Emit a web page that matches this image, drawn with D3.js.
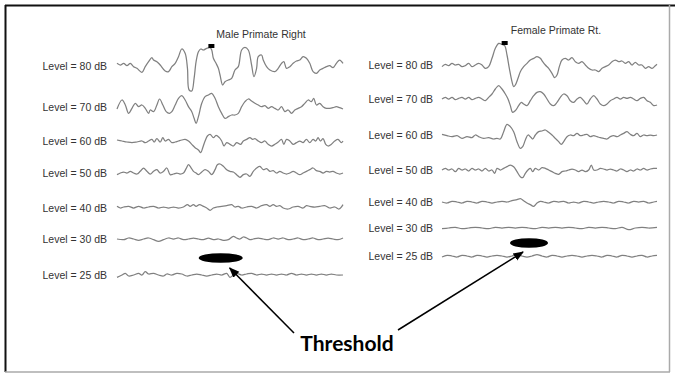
<!DOCTYPE html>
<html><head><meta charset="utf-8">
<script src="https://cdn.jsdelivr.net/npm/d3@7"></script>
<style>body{margin:0;background:#fff}</style></head>
<body><svg id="c" width="675" height="374"></svg>
<script>
// ---- data: [time (samples), amplitude (arb. units)] ----
const levels = ["80", "70", "60", "50", "40", "30", "25"];
const titles = ["Male Primate Right", "Female Primate Rt."];
const annotationText = "Threshold";

const male80 = [[0,8],[10,3],[20,8],[30,1],[40,8],[50,-2],[60,-7],[75,-19],[85,-2],[95,13],[105,25],[110,18],[120,13],[130,3],[145,-15],[155,-17],[165,-2],[175,8],[185,28],[195,51],[205,38],[212,-7],[217,-72],[225,-75],[232,-37],[238,13],[245,43],[252,51],[260,48],[270,53],[280,55],[285,48],[290,23],[298,8],[305,-7],[310,-27],[318,-57],[325,-47],[335,-42],[345,-37],[355,-12],[365,-2],[375,48],[385,56],[395,48],[405,3],[412,-32],[420,-7],[425,28],[435,33],[440,18],[450,-2],[460,-12],[475,-17],[485,-7],[495,8],[502,13],[510,-7],[520,-2],[530,8],[540,15],[550,18],[560,28],[570,23],[580,8],[590,-17],[600,-22],[610,-12],[620,-7],[630,-2],[640,1],[650,-5],[660,8],[670,18],[680,8]];
const male70 = [[0,-6],[15,21],[25,6],[35,-19],[45,-4],[55,11],[65,1],[75,6],[85,-4],[95,-19],[100,-9],[110,-14],[120,6],[128,24],[138,6],[148,-14],[158,-19],[165,-14],[175,6],[185,26],[195,34],[205,21],[215,1],[225,-14],[232,-34],[238,-49],[245,-29],[255,11],[265,31],[275,36],[285,41],[295,26],[305,1],[315,-19],[325,-34],[335,-29],[345,-24],[355,-24],[365,-19],[375,1],[385,16],[395,24],[405,18],[415,11],[425,6],[435,1],[445,4],[455,-4],[465,1],[475,-4],[485,-9],[495,1],[505,-14],[515,-9],[525,-19],[535,-9],[545,-4],[555,1],[565,11],[575,21],[585,16],[592,26],[600,6],[610,11],[620,1],[630,-4],[640,-4],[650,-2],[660,1],[670,-2],[680,-6]];
const male60 = [[0,3],[15,0],[30,-3],[45,-5],[60,-3],[75,0],[85,-5],[95,0],[105,5],[112,-3],[120,7],[130,-3],[138,10],[145,0],[155,5],[165,-5],[175,-3],[185,0],[195,3],[205,5],[215,0],[225,-10],[235,-20],[245,-27],[252,-35],[258,-20],[265,0],[272,15],[280,20],[290,10],[298,17],[308,10],[315,0],[322,-15],[330,-5],[340,-10],[350,-15],[360,-5],[372,-10],[380,0],[390,5],[400,10],[408,5],[415,7],[425,0],[435,-5],[445,0],[455,-10],[465,-15],[475,-10],[485,-3],[495,5],[502,-10],[510,5],[520,0],[530,-10],[540,-5],[550,0],[560,-5],[570,5],[580,-5],[590,5],[598,0],[605,10],[612,0],[620,7],[628,-10],[635,-15],[645,-10],[655,0],[665,5],[675,-5],[680,0]];
const male50 = [[0,-5],[10,0],[20,3],[30,0],[40,5],[50,0],[60,-3],[70,5],[80,15],[90,5],[100,-3],[110,5],[120,10],[130,0],[140,5],[150,15],[160,-5],[170,-3],[180,0],[190,-3],[200,0],[208,13],[215,25],[222,17],[230,5],[238,0],[245,-5],[255,3],[265,10],[275,5],[285,-5],[295,10],[302,25],[310,27],[320,20],[330,10],[340,5],[350,3],[360,-5],[370,-13],[380,-5],[390,-3],[400,-10],[410,5],[420,15],[430,20],[440,10],[450,13],[460,5],[470,7],[480,0],[490,5],[500,0],[510,-3],[520,0],[530,5],[540,0],[550,-5],[560,0],[570,5],[580,10],[590,15],[600,7],[610,5],[620,0],[630,5],[640,3],[650,5],[660,0],[670,-3],[680,0]];
const male40 = [[0,5],[10,0],[20,3],[35,5],[50,0],[65,5],[80,0],[95,3],[110,5],[125,0],[140,3],[155,0],[170,3],[185,0],[200,3],[212,10],[220,5],[230,10],[238,5],[248,10],[260,5],[270,0],[280,-7],[290,0],[300,3],[315,5],[330,7],[345,10],[355,3],[365,5],[375,0],[390,3],[405,5],[420,0],[435,7],[450,10],[460,5],[470,10],[480,5],[490,7],[500,0],[515,-3],[530,3],[545,5],[560,0],[570,7],[580,5],[595,3],[610,5],[625,7],[640,0],[655,3],[668,-3],[680,10]];
const male30 = [[0,0],[20,-2],[35,3],[50,0],[65,-4],[80,0],[95,3],[110,-2],[125,-7],[140,-2],[155,3],[170,0],[185,3],[200,-2],[215,0],[230,3],[245,0],[260,-2],[275,3],[290,-2],[305,0],[320,-4],[335,-2],[350,8],[360,3],[370,0],[380,6],[390,3],[400,-2],[410,0],[425,3],[440,0],[455,-2],[470,3],[485,0],[500,3],[515,-2],[530,0],[545,3],[560,-2],[575,0],[590,3],[605,-2],[620,0],[635,3],[650,0],[665,-2],[680,3]];
const male25 = [[0,-7],[15,0],[25,5],[35,-3],[50,0],[65,5],[75,0],[85,10],[95,3],[110,5],[125,0],[140,-3],[150,3],[165,0],[180,5],[195,3],[210,-3],[225,0],[240,3],[255,0],[270,-3],[285,0],[300,3],[315,0],[330,5],[340,-7],[350,0],[360,5],[375,0],[390,3],[405,5],[420,0],[435,3],[450,0],[465,3],[480,0],[495,3],[510,0],[525,5],[540,0],[555,3],[570,0],[585,3],[600,0],[615,3],[630,0],[645,3],[660,0],[680,0]];

const female80 = [[0,-5],[10,2],[20,-2],[30,5],[40,0],[50,2],[60,-5],[70,-2],[80,5],[90,-5],[100,0],[110,5],[120,0],[130,-10],[140,-5],[150,20],[160,50],[170,65],[180,62],[188,58],[195,30],[202,-10],[210,-50],[215,-65],[220,-60],[228,-40],[235,-20],[245,-5],[255,5],[265,15],[275,20],[285,25],[295,20],[302,10],[310,0],[320,-10],[330,-25],[338,-38],[345,-30],[352,-5],[360,15],[370,20],[380,15],[390,22],[400,10],[410,5],[420,10],[430,0],[440,-10],[450,-15],[460,-15],[470,-20],[480,-10],[490,-5],[500,0],[510,10],[520,15],[530,10],[540,12],[550,5],[560,10],[570,0],[580,8],[590,0],[600,0],[610,-10],[620,-5],[630,-10],[640,-2],[645,2]];
const female70 = [[0,0],[10,5],[20,0],[30,5],[40,-2],[50,2],[60,5],[70,0],[80,5],[90,-2],[100,2],[110,5],[120,0],[130,-5],[140,5],[150,15],[160,30],[170,40],[180,30],[190,15],[198,0],[205,-20],[212,-40],[220,-35],[230,-20],[238,-10],[245,-15],[255,-20],[265,-5],[275,10],[285,20],[295,22],[305,15],[315,0],[325,-15],[335,-20],[345,-10],[355,5],[365,15],[375,10],[385,-5],[395,-10],[405,0],[415,5],[425,-5],[435,-15],[445,0],[455,10],[465,0],[475,-15],[485,-20],[495,-15],[505,-5],[515,0],[525,5],[535,0],[545,5],[555,2],[565,5],[575,0],[585,-5],[595,2],[605,5],[615,-5],[625,-10],[635,-20],[645,-18]];
const female60 = [[0,2],[15,-2],[30,-5],[45,-2],[60,-10],[75,-5],[90,-8],[100,0],[110,-5],[125,-10],[140,-8],[155,-12],[165,-10],[175,-12],[185,10],[195,32],[205,25],[215,10],[225,-20],[235,-40],[242,-35],[250,-15],[258,0],[265,-5],[272,-12],[280,0],[290,10],[300,12],[310,15],[320,8],[330,0],[340,-10],[350,-20],[358,-28],[365,-20],[375,-5],[385,0],[395,-2],[405,5],[415,-2],[425,0],[435,2],[445,-5],[455,-2],[465,-5],[475,-8],[485,-10],[495,-12],[505,-5],[515,-2],[525,-5],[535,0],[545,5],[555,10],[565,2],[575,-2],[585,5],[595,-5],[605,0],[615,-2],[625,0],[635,-2],[645,0]];
const female50 = [[0,0],[10,5],[20,0],[30,3],[40,-5],[50,5],[60,0],[70,3],[80,-3],[90,5],[100,0],[110,3],[120,-3],[130,5],[140,-3],[150,0],[158,-10],[165,5],[175,0],[185,5],[195,10],[205,15],[215,10],[225,-5],[235,-20],[242,-23],[250,-10],[258,0],[265,5],[272,-5],[280,5],[290,0],[300,7],[310,5],[320,0],[330,-5],[340,-10],[350,-13],[360,-5],[370,-3],[380,0],[390,3],[400,0],[410,-5],[420,0],[430,-5],[440,0],[448,15],[455,0],[465,0],[475,5],[485,3],[495,0],[505,3],[515,0],[525,-3],[535,3],[545,0],[555,-5],[565,0],[575,-3],[585,3],[595,0],[605,5],[615,0],[625,3],[635,5],[645,5]];
const female40 = [[0,0],[15,-3],[30,2],[45,0],[60,-3],[75,2],[90,0],[105,-3],[120,2],[135,0],[150,-3],[165,0],[180,2],[195,0],[210,4],[225,7],[235,10],[245,4],[255,-3],[265,-8],[275,-13],[285,-3],[295,2],[305,0],[320,-3],[335,2],[350,0],[365,2],[380,-3],[395,0],[410,-3],[425,2],[440,0],[455,-3],[470,0],[485,2],[500,0],[515,-3],[530,2],[545,0],[560,-3],[575,2],[590,0],[605,2],[620,-3],[635,0],[645,2]];
const female30 = [[0,-2],[20,0],[40,2],[60,-2],[80,0],[100,2],[120,0],[140,-2],[160,2],[180,0],[200,2],[220,0],[240,2],[260,0],[280,-2],[300,2],[320,0],[340,2],[360,0],[380,2],[400,0],[420,-2],[440,2],[460,0],[480,2],[500,0],[520,-2],[540,2],[560,-5],[580,0],[600,2],[620,0],[645,2]];
const female25 = [[0,-3],[15,2],[30,0],[45,-3],[60,2],[75,0],[90,-3],[105,2],[120,0],[135,-3],[150,0],[165,2],[180,0],[195,-3],[210,0],[225,4],[240,0],[255,-3],[270,0],[285,4],[300,0],[315,-3],[330,2],[345,0],[360,-3],[375,0],[390,2],[405,0],[420,-3],[435,0],[450,2],[465,0],[480,-3],[495,2],[510,0],[525,-3],[540,2],[555,0],[570,-3],[585,0],[600,2],[615,-3],[630,0],[645,2]];

// wave V marker (time, amplitude) and threshold location (time, between 30 & 25 dB)
const maleMarker = [284, 60];
const femaleMarker = [188, 66];
const maleThresholdTime = 312;
const femaleThresholdTime = 261;

// ---- layout ----
const svg = d3.select("#c");
const W = 675, H = 374;
svg.append("rect").attr("width", W).attr("height", H).attr("fill", "#fff");

const panels = [
  { title: titles[0], traces: [male80, male70, male60, male50, male40, male30, male25],
    x: d3.scaleLinear().domain([0, 680]).range([117, 343]),
    rowY: [66, 107, 141, 173, 208, 239, 275], labelX: 107, titleX: 261, titleY: 38,
    marker: maleMarker, thr: maleThresholdTime, thrRx: 22 },
  { title: titles[1], traces: [female80, female70, female60, female50, female40, female30, female25],
    x: d3.scaleLinear().domain([0, 645]).range([442, 657]),
    rowY: [65, 99, 135, 170, 202, 228, 256], labelX: 433, titleX: 556, titleY: 34,
    marker: femaleMarker, thr: femaleThresholdTime, thrRx: 19 }
];
const amp = d3.scaleLinear().domain([0, 3]).range([0, -1]);

const font = "'Liberation Sans', Arial, sans-serif";

panels.forEach(p => {
  svg.append("text").attr("x", p.titleX).attr("y", p.titleY)
    .attr("text-anchor", "middle").attr("font-family", font).attr("font-size", 10.5)
    .attr("fill", "#333").text(p.title);

  p.traces.forEach((tr, i) => {
    const base = p.rowY[i];
    svg.append("text").attr("x", p.labelX).attr("y", base + 4)
      .attr("text-anchor", "end").attr("font-family", font).attr("font-size", 10.5)
      .attr("fill", "#333").text(`Level = ${levels[i]} dB`);
    const line = d3.line().x(d => p.x(d[0])).y(d => base + amp(d[1]))
      .curve(d3.curveCatmullRom.alpha(0.5));
    svg.append("path").datum(tr).attr("d", line).attr("fill", "none")
      .attr("stroke", "#808080").attr("stroke-width", 1.25).attr("stroke-linejoin", "round");
  });

  // wave marker
  const mx = p.x(p.marker[0]), my = p.rowY[0] + amp(p.marker[1]);
  svg.append("rect").attr("x", mx - 3).attr("y", my - 2).attr("width", 6).attr("height", 4).attr("fill", "#000");

  // threshold ellipse between the 30 dB and 25 dB rows
  const ex = p.x(p.thr), ey = (p.rowY[5] + p.rowY[6]) / 2 + 1;
  p.ell = [ex, ey];
  svg.append("ellipse").attr("cx", ex).attr("cy", ey).attr("rx", p.thrRx).attr("ry", 4.8).attr("fill", "#000");
});

// arrows
const defs = svg.append("defs");
defs.append("marker").attr("id", "ah").attr("viewBox", "0 0 10 10").attr("refX", 9).attr("refY", 5)
  .attr("markerWidth", 7).attr("markerHeight", 7).attr("orient", "auto")
  .append("path").attr("d", "M0,1 L10,5 L0,9 Z").attr("fill", "#000");

const tx = 347, ty = 351;
svg.append("line").attr("x1", 294).attr("y1", 333).attr("x2", panels[0].ell[0] + 9).attr("y2", panels[0].ell[1] + 10)
  .attr("stroke", "#000").attr("stroke-width", 1.5).attr("marker-end", "url(#ah)");
svg.append("line").attr("x1", 398).attr("y1", 330).attr("x2", panels[1].ell[0] - 6).attr("y2", panels[1].ell[1] + 9)
  .attr("stroke", "#000").attr("stroke-width", 1.5).attr("marker-end", "url(#ah)");

svg.append("text").attr("x", tx).attr("y", ty).attr("text-anchor", "middle")
  .attr("font-family", "Lato, 'Open Sans', sans-serif").attr("font-weight", "bold").attr("font-size", 21)
  .attr("fill", "#000").text(annotationText);

// frame
svg.append("line").attr("x1", 5).attr("y1", 5.5).attr("x2", 675).attr("y2", 5.5).attr("stroke", "#111").attr("stroke-width", 2);
svg.append("line").attr("x1", 5.5).attr("y1", 5).attr("x2", 5.5).attr("y2", 372).attr("stroke", "#111").attr("stroke-width", 2);
svg.append("line").attr("x1", 5).attr("y1", 372).attr("x2", 670).attr("y2", 372).attr("stroke", "#aaa").attr("stroke-width", 1.5);
svg.append("line").attr("x1", 669.5).attr("y1", 5).attr("x2", 669.5).attr("y2", 372).attr("stroke", "#aaa").attr("stroke-width", 1.5);
</script></body></html>
